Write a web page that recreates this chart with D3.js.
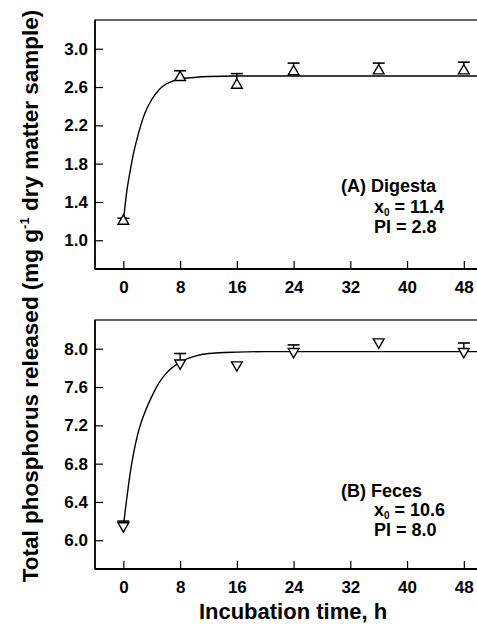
<!DOCTYPE html>
<html>
<head>
<meta charset="utf-8">
<script src="https://cdn.jsdelivr.net/npm/d3@7"></script>
<style>
  body { margin: 0; background: #fff; }
  svg { display: block; }
  text { font-family: "Liberation Sans", Arial, sans-serif; fill: #000; }
</style>
</head>
<body>
<script>
// data
var hours = [0, 8, 16, 24, 36, 48];
var xTicks = [0, 8, 16, 24, 32, 40, 48];

var digestaMean = [1.20, 2.70, 2.62, 2.76, 2.77, 2.77];
var digestaErr = [0.03, 0.07, 0.12, 0.09, 0.08, 0.09];
var digestaTicks = [1.0, 1.4, 1.8, 2.2, 2.6, 3.0];
// fitted curve, points
var digestaFitT = [0, 0.5, 1, 1.5, 2, 3, 4, 5, 6, 7, 8, 10, 12, 16, 50];
var digestaFitY = [1.20, 1.52, 1.74, 1.93, 2.08, 2.32, 2.47, 2.57, 2.63, 2.665, 2.685, 2.70, 2.71, 2.715, 2.715];

var fecesMean = [6.15, 7.85, 7.83, 7.97, 8.07, 7.97];
var fecesErr = [0.05, 0.10, 0, 0.07, 0, 0.09];
var fecesTicks = [6.0, 6.4, 6.8, 7.2, 7.6, 8.0];
var fecesFitT = [0, 0.5, 1, 1.5, 2, 3, 4, 5, 6, 8, 10, 12, 16, 20, 50];
var fecesFitY = [6.15, 6.45, 6.72, 6.93, 7.10, 7.33, 7.50, 7.64, 7.74, 7.86, 7.92, 7.95, 7.965, 7.97, 7.97];

var width = 477, height = 625;
var left = 95, right = 478;

var svg = d3.select("body").append("svg")
  .attr("width", width)
  .attr("height", height);

var x = d3.scaleLinear().domain([-4, 50]).range([left, right]);

function drawPanel(cfg) {
  var y = d3.scaleLinear().domain(cfg.domain).range([cfg.bottom, cfg.top]);
  var g = svg.append("g");

  // frame
  g.append("rect")
    .attr("x", left).attr("y", cfg.top)
    .attr("width", right - left).attr("height", cfg.bottom - cfg.top)
    .attr("fill", "none").attr("stroke", "#000").attr("stroke-width", 1.2);
  g.append("line")
    .attr("x1", left).attr("x2", right)
    .attr("y1", cfg.bottom).attr("y2", cfg.bottom)
    .attr("stroke", "#000").attr("stroke-width", 1.8);
  g.append("line")
    .attr("x1", left).attr("x2", left)
    .attr("y1", cfg.top).attr("y2", cfg.bottom)
    .attr("stroke", "#000").attr("stroke-width", 1.6);

  // axes, ticks inside
  var yAxis = d3.axisLeft(y).tickValues(cfg.ticks).tickFormat(d3.format(".1f"))
    .tickSizeInner(-8).tickSizeOuter(0).tickPadding(7);
  var ya = g.append("g").attr("transform", `translate(${left},0)`).call(yAxis);
  ya.select(".domain").remove();
  ya.selectAll("line").attr("stroke-width", 1.2);
  ya.selectAll("text").style("font-size", "17px").style("font-weight", "bold");

  var xAxis = d3.axisBottom(x).tickValues(xTicks)
    .tickSizeInner(-8).tickSizeOuter(0).tickPadding(12);
  var xa = g.append("g").attr("transform", `translate(0,${cfg.bottom})`).call(xAxis);
  xa.select(".domain").remove();
  xa.selectAll("line").attr("stroke-width", 1.2);
  xa.selectAll("text").style("font-size", "17px").style("font-weight", "bold");

  // fitted curve
  var fit = cfg.fitT.map((t, i) => [t, cfg.fitY[i]]);
  g.append("path")
    .datum(fit)
    .attr("fill", "none").attr("stroke", "#000").attr("stroke-width", 1.4)
    .attr("d", d3.line().x(d => x(d[0])).y(d => y(d[1])).curve(d3.curveMonotoneX));

  // error bars (upper)
  var pts = hours.map((t, i) => ({ t: t, m: cfg.mean[i], e: cfg.err[i] }));
  var eb = g.selectAll(".eb").data(pts.filter(d => d.e > 0)).enter().append("g");
  eb.append("line")
    .attr("x1", d => x(d.t)).attr("x2", d => x(d.t))
    .attr("y1", d => y(d.m)).attr("y2", d => y(d.m + d.e))
    .attr("stroke", "#000").attr("stroke-width", 1.4);
  eb.append("line")
    .attr("x1", d => x(d.t) - 6).attr("x2", d => x(d.t) + 6)
    .attr("y1", d => y(d.m + d.e)).attr("y2", d => y(d.m + d.e))
    .attr("stroke", "#000").attr("stroke-width", 1.6);

  // open triangles
  var sym = d3.symbol().type(d3.symbolTriangle).size(50);
  g.selectAll(".pt").data(pts).enter().append("path")
    .attr("d", sym)
    .attr("transform", d => `translate(${x(d.t)},${y(d.m)})` + (cfg.down ? " rotate(180)" : ""))
    .attr("fill", "#fff").attr("stroke", "#000").attr("stroke-width", 1.4);

  // annotation
  var a = g.append("g").style("font-weight", "bold").style("font-size", "18px");
  a.append("text").attr("x", 341).attr("y", cfg.top + cfg.lab[0]).text(cfg.name);
  var t2 = a.append("text").attr("x", 374).attr("y", cfg.top + cfg.lab[1]);
  t2.append("tspan").text("x");
  t2.append("tspan").attr("dy", 3).style("font-size", "10px").text("0");
  t2.append("tspan").attr("dy", -3).text(" = " + cfg.x0);
  a.append("text").attr("x", 374).attr("y", cfg.top + cfg.lab[2]).text("PI = " + cfg.pi);
}

drawPanel({
  top: 20, bottom: 269, domain: [0.7, 3.3], ticks: digestaTicks,
  mean: digestaMean, err: digestaErr, fitT: digestaFitT, fitY: digestaFitY,
  down: false, name: "(A) Digesta", x0: "11.4", pi: "2.8", lab: [172, 193, 213]
});

drawPanel({
  top: 320, bottom: 569, domain: [5.7, 8.3], ticks: fecesTicks,
  mean: fecesMean, err: fecesErr, fitT: fecesFitT, fitY: fecesFitY,
  down: true, name: "(B) Feces", x0: "10.6", pi: "8.0", lab: [177, 196, 216]
});

// axis titles
var yt = svg.append("text")
  .attr("transform", "translate(38,296) rotate(-90)")
  .attr("text-anchor", "middle")
  .style("font-size", "22.5px").style("font-weight", "bold");
yt.append("tspan").text("Total phosphorus released (mg g");
yt.append("tspan").attr("dy", -9).style("font-size", "13px").text("-1");
yt.append("tspan").attr("dy", 9).text(" dry matter sample)");

svg.append("text")
  .attr("x", 293).attr("y", 619)
  .attr("text-anchor", "middle")
  .style("font-size", "22px").style("font-weight", "bold")
  .text("Incubation time, h");
</script>
</body>
</html>
